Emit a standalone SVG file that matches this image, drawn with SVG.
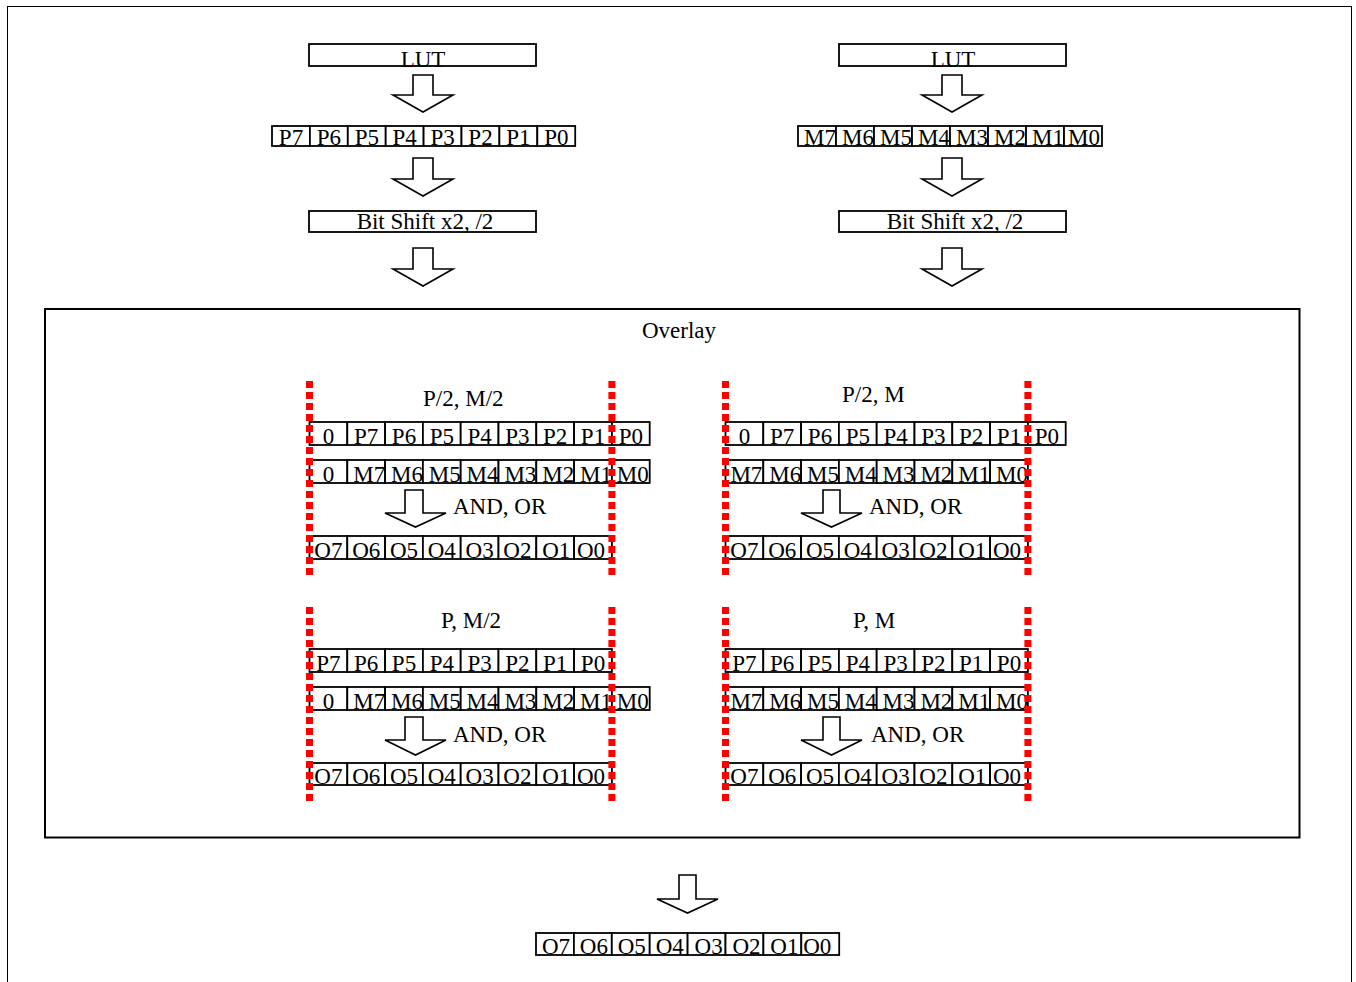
<svg xmlns="http://www.w3.org/2000/svg" width="1356" height="982" viewBox="0 0 1356 982">
<style>
text{font-family:"Liberation Serif","Times New Roman",serif;font-size:23px;fill:#000;text-anchor:middle}
.st{text-anchor:start}
.row rect,.box{fill:#fff;stroke:#000;stroke-width:1.8}
.arr{fill:#fff;stroke:#000;stroke-width:1.6;stroke-linejoin:miter}
.red{stroke:#f00;stroke-width:7;stroke-dasharray:7 4;fill:none}
</style>
<rect x="0" y="0" width="1356" height="982" fill="#fff"/>
<rect id="page" x="7.5" y="6.5" width="1344" height="1000" fill="none" stroke="#000" stroke-width="1"/>

<g id="lut-left"><rect class="box" x="309" y="44" width="227" height="22"/><text x="423" y="67">LUT</text></g>
<g id="lut-right"><rect class="box" x="839" y="44" width="227" height="22"/><text x="953" y="67">LUT</text></g>

<g id="p-row-top" class="row">
<rect x="272" y="126" width="37.9" height="20"/><text x="291" y="145">P7</text>
<rect x="309.9" y="126" width="37.9" height="20"/><text x="328.9" y="145">P6</text>
<rect x="347.8" y="126" width="37.9" height="20"/><text x="366.8" y="145">P5</text>
<rect x="385.7" y="126" width="37.9" height="20"/><text x="404.7" y="145">P4</text>
<rect x="423.6" y="126" width="37.9" height="20"/><text x="442.6" y="145">P3</text>
<rect x="461.5" y="126" width="37.9" height="20"/><text x="480.5" y="145">P2</text>
<rect x="499.4" y="126" width="37.9" height="20"/><text x="518.4" y="145">P1</text>
<rect x="537.3" y="126" width="37.9" height="20"/><text x="556.3" y="145">P0</text>
</g>
<g id="m-row-top" class="row">
<rect x="798" y="126" width="38" height="20"/><text x="820" y="145">M7</text>
<rect x="836" y="126" width="38" height="20"/><text x="858" y="145">M6</text>
<rect x="874" y="126" width="38" height="20"/><text x="896" y="145">M5</text>
<rect x="912" y="126" width="38" height="20"/><text x="934" y="145">M4</text>
<rect x="950" y="126" width="38" height="20"/><text x="972" y="145">M3</text>
<rect x="988" y="126" width="38" height="20"/><text x="1010" y="145">M2</text>
<rect x="1026" y="126" width="38" height="20"/><text x="1048" y="145">M1</text>
<rect x="1064" y="126" width="38" height="20"/><text x="1084" y="145">M0</text>
</g>

<g id="shift-left"><rect class="box" x="309" y="211" width="227" height="21"/><text x="425" y="229">Bit Shift x2, /2</text></g>
<g id="shift-right"><rect class="box" x="839" y="211" width="227" height="21"/><text x="955" y="229">Bit Shift x2, /2</text></g>

<g id="overlay"><rect x="45" y="309" width="1254.5" height="528.5" fill="none" stroke="#000" stroke-width="2"/><text x="679" y="338">Overlay</text></g>

<!-- panel 1 -->
<g id="panel-p2-m2">
<text class="st" x="423" y="406">P/2, M/2</text>
<g class="row">
<rect x="309.5" y="422" width="37.8" height="23"/><text x="328.4" y="444">0</text>
<rect x="347.3" y="422" width="37.8" height="23"/><text x="366.2" y="444">P7</text>
<rect x="385.1" y="422" width="37.8" height="23"/><text x="404" y="444">P6</text>
<rect x="422.9" y="422" width="37.8" height="23"/><text x="441.8" y="444">P5</text>
<rect x="460.7" y="422" width="37.8" height="23"/><text x="479.6" y="444">P4</text>
<rect x="498.5" y="422" width="37.8" height="23"/><text x="517.4" y="444">P3</text>
<rect x="536.3" y="422" width="37.8" height="23"/><text x="555.2" y="444">P2</text>
<rect x="574.1" y="422" width="37.8" height="23"/><text x="593" y="444">P1</text>
<rect x="611.9" y="422" width="37.8" height="23"/><text x="630.8" y="444">P0</text>
</g>
<g class="row">
<rect x="309.5" y="460" width="37.8" height="23"/><text x="328.4" y="482">0</text>
<rect x="347.3" y="460" width="37.8" height="23"/><text x="369.2" y="482">M7</text>
<rect x="385.1" y="460" width="37.8" height="23"/><text x="407" y="482">M6</text>
<rect x="422.9" y="460" width="37.8" height="23"/><text x="444.8" y="482">M5</text>
<rect x="460.7" y="460" width="37.8" height="23"/><text x="482.6" y="482">M4</text>
<rect x="498.5" y="460" width="37.8" height="23"/><text x="520.4" y="482">M3</text>
<rect x="536.3" y="460" width="37.8" height="23"/><text x="558.2" y="482">M2</text>
<rect x="574.1" y="460" width="37.8" height="23"/><text x="596" y="482">M1</text>
<rect x="611.9" y="460" width="37.8" height="23"/><text x="632.8" y="482">M0</text>
</g>
<text class="st" x="453" y="514">AND, OR</text>
<g class="row">
<rect x="309.5" y="536" width="37.8" height="23"/><text x="328.4" y="558">O7</text>
<rect x="347.3" y="536" width="37.8" height="23"/><text x="366.2" y="558">O6</text>
<rect x="385.1" y="536" width="37.8" height="23"/><text x="404" y="558">O5</text>
<rect x="422.9" y="536" width="37.8" height="23"/><text x="441.8" y="558">O4</text>
<rect x="460.7" y="536" width="37.8" height="23"/><text x="479.6" y="558">O3</text>
<rect x="498.5" y="536" width="37.8" height="23"/><text x="517.4" y="558">O2</text>
<rect x="536.3" y="536" width="37.8" height="23"/><text x="556.2" y="558">O1</text>
<rect x="574.1" y="536" width="37.8" height="23"/><text x="591" y="558">O0</text>
</g>
</g>

<!-- panel 2 -->
<g id="panel-p2-m">
<text class="st" x="842" y="402">P/2, M</text>
<g class="row">
<rect x="725.5" y="422" width="37.8" height="23"/><text x="744.4" y="444">0</text>
<rect x="763.3" y="422" width="37.8" height="23"/><text x="782.2" y="444">P7</text>
<rect x="801.1" y="422" width="37.8" height="23"/><text x="820" y="444">P6</text>
<rect x="838.9" y="422" width="37.8" height="23"/><text x="857.8" y="444">P5</text>
<rect x="876.7" y="422" width="37.8" height="23"/><text x="895.6" y="444">P4</text>
<rect x="914.5" y="422" width="37.8" height="23"/><text x="933.4" y="444">P3</text>
<rect x="952.3" y="422" width="37.8" height="23"/><text x="971.2" y="444">P2</text>
<rect x="990.1" y="422" width="37.8" height="23"/><text x="1009" y="444">P1</text>
<rect x="1027.9" y="422" width="37.8" height="23"/><text x="1046.8" y="444">P0</text>
</g>
<g class="row">
<rect x="725.5" y="460" width="37.8" height="23"/><text x="746.4" y="482">M7</text>
<rect x="763.3" y="460" width="37.8" height="23"/><text x="785.2" y="482">M6</text>
<rect x="801.1" y="460" width="37.8" height="23"/><text x="823" y="482">M5</text>
<rect x="838.9" y="460" width="37.8" height="23"/><text x="860.8" y="482">M4</text>
<rect x="876.7" y="460" width="37.8" height="23"/><text x="898.6" y="482">M3</text>
<rect x="914.5" y="460" width="37.8" height="23"/><text x="936.4" y="482">M2</text>
<rect x="952.3" y="460" width="37.8" height="23"/><text x="974.2" y="482">M1</text>
<rect x="990.1" y="460" width="37.8" height="23"/><text x="1012" y="482">M0</text>
</g>
<text class="st" x="869" y="514">AND, OR</text>
<g class="row">
<rect x="725.5" y="536" width="37.8" height="23"/><text x="744.4" y="558">O7</text>
<rect x="763.3" y="536" width="37.8" height="23"/><text x="782.2" y="558">O6</text>
<rect x="801.1" y="536" width="37.8" height="23"/><text x="820" y="558">O5</text>
<rect x="838.9" y="536" width="37.8" height="23"/><text x="857.8" y="558">O4</text>
<rect x="876.7" y="536" width="37.8" height="23"/><text x="895.6" y="558">O3</text>
<rect x="914.5" y="536" width="37.8" height="23"/><text x="933.4" y="558">O2</text>
<rect x="952.3" y="536" width="37.8" height="23"/><text x="972.2" y="558">O1</text>
<rect x="990.1" y="536" width="37.8" height="23"/><text x="1007" y="558">O0</text>
</g>
</g>

<!-- panel 3 -->
<g id="panel-p-m2">
<text class="st" x="441" y="628">P, M/2</text>
<g class="row">
<rect x="309.5" y="649" width="37.8" height="23"/><text x="328.4" y="671">P7</text>
<rect x="347.3" y="649" width="37.8" height="23"/><text x="366.2" y="671">P6</text>
<rect x="385.1" y="649" width="37.8" height="23"/><text x="404" y="671">P5</text>
<rect x="422.9" y="649" width="37.8" height="23"/><text x="441.8" y="671">P4</text>
<rect x="460.7" y="649" width="37.8" height="23"/><text x="479.6" y="671">P3</text>
<rect x="498.5" y="649" width="37.8" height="23"/><text x="517.4" y="671">P2</text>
<rect x="536.3" y="649" width="37.8" height="23"/><text x="555.2" y="671">P1</text>
<rect x="574.1" y="649" width="37.8" height="23"/><text x="593" y="671">P0</text>
</g>
<g class="row">
<rect x="309.5" y="687" width="37.8" height="23"/><text x="328.4" y="709">0</text>
<rect x="347.3" y="687" width="37.8" height="23"/><text x="369.2" y="709">M7</text>
<rect x="385.1" y="687" width="37.8" height="23"/><text x="407" y="709">M6</text>
<rect x="422.9" y="687" width="37.8" height="23"/><text x="444.8" y="709">M5</text>
<rect x="460.7" y="687" width="37.8" height="23"/><text x="482.6" y="709">M4</text>
<rect x="498.5" y="687" width="37.8" height="23"/><text x="520.4" y="709">M3</text>
<rect x="536.3" y="687" width="37.8" height="23"/><text x="558.2" y="709">M2</text>
<rect x="574.1" y="687" width="37.8" height="23"/><text x="596" y="709">M1</text>
<rect x="611.9" y="687" width="37.8" height="23"/><text x="632.8" y="709">M0</text>
</g>
<text class="st" x="453" y="742">AND, OR</text>
<g class="row">
<rect x="309.5" y="763" width="37.8" height="22"/><text x="328.4" y="784">O7</text>
<rect x="347.3" y="763" width="37.8" height="22"/><text x="366.2" y="784">O6</text>
<rect x="385.1" y="763" width="37.8" height="22"/><text x="404" y="784">O5</text>
<rect x="422.9" y="763" width="37.8" height="22"/><text x="441.8" y="784">O4</text>
<rect x="460.7" y="763" width="37.8" height="22"/><text x="479.6" y="784">O3</text>
<rect x="498.5" y="763" width="37.8" height="22"/><text x="517.4" y="784">O2</text>
<rect x="536.3" y="763" width="37.8" height="22"/><text x="556.2" y="784">O1</text>
<rect x="574.1" y="763" width="37.8" height="22"/><text x="591" y="784">O0</text>
</g>
</g>

<!-- panel 4 -->
<g id="panel-p-m">
<text class="st" x="853" y="628">P, M</text>
<g class="row">
<rect x="725.5" y="649" width="37.8" height="23"/><text x="744.4" y="671">P7</text>
<rect x="763.3" y="649" width="37.8" height="23"/><text x="782.2" y="671">P6</text>
<rect x="801.1" y="649" width="37.8" height="23"/><text x="820" y="671">P5</text>
<rect x="838.9" y="649" width="37.8" height="23"/><text x="857.8" y="671">P4</text>
<rect x="876.7" y="649" width="37.8" height="23"/><text x="895.6" y="671">P3</text>
<rect x="914.5" y="649" width="37.8" height="23"/><text x="933.4" y="671">P2</text>
<rect x="952.3" y="649" width="37.8" height="23"/><text x="971.2" y="671">P1</text>
<rect x="990.1" y="649" width="37.8" height="23"/><text x="1009" y="671">P0</text>
</g>
<g class="row">
<rect x="725.5" y="687" width="37.8" height="23"/><text x="746.4" y="709">M7</text>
<rect x="763.3" y="687" width="37.8" height="23"/><text x="785.2" y="709">M6</text>
<rect x="801.1" y="687" width="37.8" height="23"/><text x="823" y="709">M5</text>
<rect x="838.9" y="687" width="37.8" height="23"/><text x="860.8" y="709">M4</text>
<rect x="876.7" y="687" width="37.8" height="23"/><text x="898.6" y="709">M3</text>
<rect x="914.5" y="687" width="37.8" height="23"/><text x="936.4" y="709">M2</text>
<rect x="952.3" y="687" width="37.8" height="23"/><text x="974.2" y="709">M1</text>
<rect x="990.1" y="687" width="37.8" height="23"/><text x="1012" y="709">M0</text>
</g>
<text class="st" x="871" y="742">AND, OR</text>
<g class="row">
<rect x="725.5" y="763" width="37.8" height="22"/><text x="744.4" y="784">O7</text>
<rect x="763.3" y="763" width="37.8" height="22"/><text x="782.2" y="784">O6</text>
<rect x="801.1" y="763" width="37.8" height="22"/><text x="820" y="784">O5</text>
<rect x="838.9" y="763" width="37.8" height="22"/><text x="857.8" y="784">O4</text>
<rect x="876.7" y="763" width="37.8" height="22"/><text x="895.6" y="784">O3</text>
<rect x="914.5" y="763" width="37.8" height="22"/><text x="933.4" y="784">O2</text>
<rect x="952.3" y="763" width="37.8" height="22"/><text x="972.2" y="784">O1</text>
<rect x="990.1" y="763" width="37.8" height="22"/><text x="1007" y="784">O0</text>
</g>
</g>

<g id="guides">
<line class="red" x1="309.5" y1="381" x2="309.5" y2="577"/>
<line class="red" x1="611.9" y1="381" x2="611.9" y2="577"/>
<line class="red" x1="725.5" y1="381" x2="725.5" y2="577"/>
<line class="red" x1="1027.9" y1="381" x2="1027.9" y2="577"/>
<line class="red" x1="309.5" y1="607" x2="309.5" y2="803"/>
<line class="red" x1="611.9" y1="607" x2="611.9" y2="803"/>
<line class="red" x1="725.5" y1="607" x2="725.5" y2="803"/>
<line class="red" x1="1027.9" y1="607" x2="1027.9" y2="803"/>
</g>

<g id="o-row-final" class="row">
<rect x="536" y="933" width="37.9" height="22"/><text x="556" y="954">O7</text>
<rect x="573.9" y="933" width="37.9" height="22"/><text x="593.9" y="954">O6</text>
<rect x="611.8" y="933" width="37.9" height="22"/><text x="631.8" y="954">O5</text>
<rect x="649.7" y="933" width="37.9" height="22"/><text x="669.7" y="954">O4</text>
<rect x="687.6" y="933" width="37.9" height="22"/><text x="708.6" y="954">O3</text>
<rect x="725.5" y="933" width="37.9" height="22"/><text x="746.5" y="954">O2</text>
<rect x="763.4" y="933" width="37.9" height="22"/><text x="784.4" y="954">O1</text>
<rect x="801.3" y="933" width="37.9" height="22"/><text x="817.3" y="954">O0</text>
</g>

<g id="connectors">
<polygon class="arr" points="413,75 433,75 433,95 453,95 423,112 393,95 413,95"/>
<polygon class="arr" points="413,158 433,158 433,179 453,179 423,196 393,179 413,179"/>
<polygon class="arr" points="413,248 433,248 433,269 453,269 423,286 393,269 413,269"/>
<polygon class="arr" points="942,75 962,75 962,95 982,95 952,112 922,95 942,95"/>
<polygon class="arr" points="942,158 962,158 962,179 982,179 952,196 922,179 942,179"/>
<polygon class="arr" points="942,248 962,248 962,269 982,269 952,286 922,269 942,269"/>
<polygon class="arr" points="405,490 423,490 423,513 446,513 415.5,527 385,513 405,513"/>
<polygon class="arr" points="823,490 840,490 840,513 862,513 831.5,527 801,513 823,513"/>
<polygon class="arr" points="405,717 423,717 423,740 446,740 415.5,755 385,740 405,740"/>
<polygon class="arr" points="823,717 840,717 840,740 862,740 831.5,755 801,740 823,740"/>
<polygon class="arr" points="679,875 696,875 696,899 718,899 687.5,913 657,899 679,899"/>
</g>
</svg>
